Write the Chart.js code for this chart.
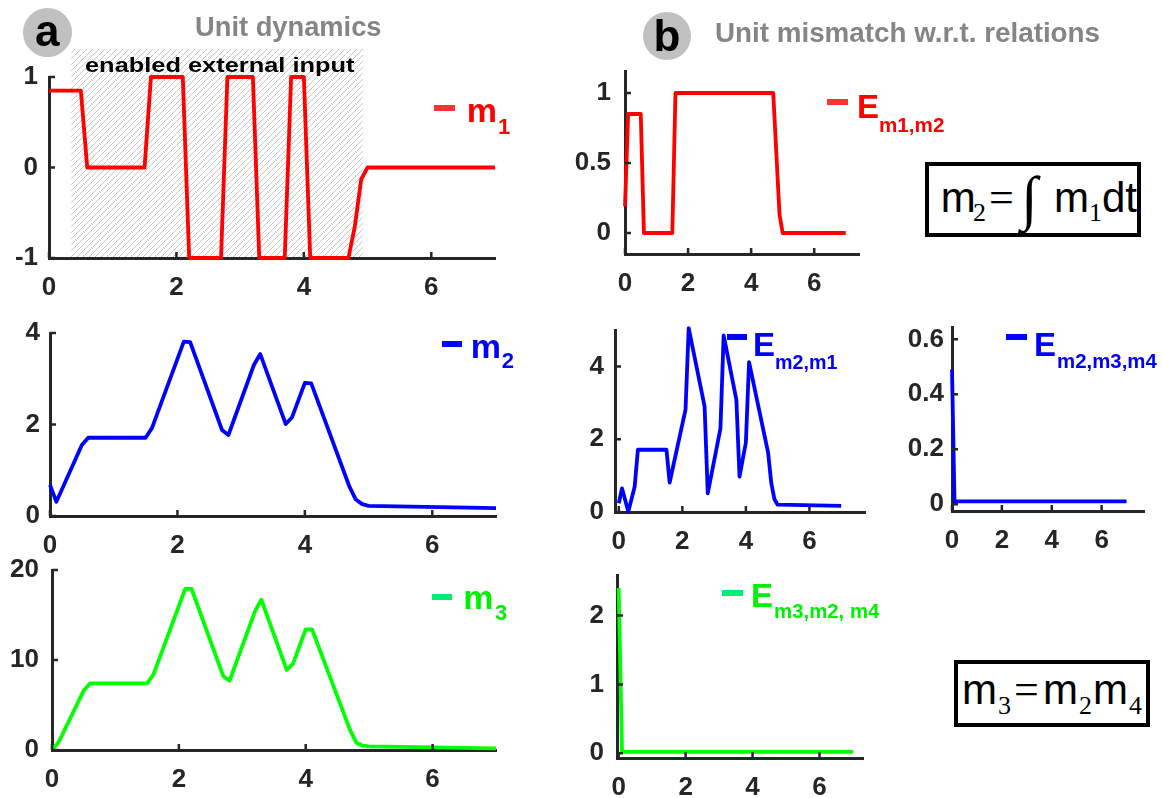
<!DOCTYPE html>
<html>
<head>
<meta charset="utf-8">
<script src="https://cdn.jsdelivr.net/npm/chart.js@4.4.1/dist/chart.umd.min.js"></script>
<style>
  html, body { margin: 0; padding: 0; background: #fff; }
  #fig { position: relative; width: 1162px; height: 798px; overflow: hidden; font-family: "Liberation Sans", Arial, sans-serif; }
  #fig canvas { position: absolute; }
  .t { position: absolute; white-space: nowrap; line-height: 1; transform-origin: 0 0; }
  .dash { position: absolute; }
  .badge { position: absolute; border-radius: 50%; background: #c0c0c0; }
  .eq { position: absolute; border: 4px solid #000; box-sizing: border-box; background: #fff; }
</style>
</head>
<body>
<div id="fig"></div>
<script>
// time samples and unit traces (panel a)
const m1T = [0, 0.5, 0.6, 1.5, 1.6, 2.1, 2.2, 2.7, 2.8, 3.2, 3.3, 3.7, 3.8, 4.0, 4.1, 4.7, 4.8, 4.9, 5.0, 7.0];
const m1Y = [0.85, 0.85, 0, 0, 1, 1, -1, -1, 1, 1, -1, -1, 1, 1, -1, -1, -0.65, -0.13, 0, 0];
const mT = [0, 0.1, 0.5, 0.6, 1.5, 1.6, 2.1, 2.2, 2.7, 2.8, 3.2, 3.3, 3.7, 3.8, 4.0, 4.1, 4.7, 4.8, 4.9, 5.0, 7.0];
const m2Y = [0.68, 0.31, 1.55, 1.71, 1.71, 1.92, 3.81, 3.80, 1.88, 1.77, 3.30, 3.54, 2.01, 2.16, 2.91, 2.90, 0.64, 0.36, 0.26, 0.22, 0.17];
const m3Y = [0.08, 0.81, 6.6, 7.4, 7.4, 8.4, 17.9, 17.9, 8.2, 7.7, 15.4, 16.7, 8.9, 9.6, 13.4, 13.4, 2.2, 0.8, 0.48, 0.4, 0.18];

// mismatch traces (panel b)
const e12T = [0, 0.1, 0.5, 0.6, 1.5, 1.6, 4.7, 4.9, 5.0, 7.0];
const e12Y = [0.19, 0.85, 0.85, 0, 0, 1, 1, 0.13, 0, 0];
const e21T = [0, 0.1, 0.3, 0.5, 0.6, 1.5, 1.6, 2.1, 2.2, 2.7, 2.8, 3.2, 3.3, 3.7, 3.8, 4.0, 4.1, 4.7, 4.8, 4.9, 5.0, 7.0];
const e21Y = [0.24, 0.65, 0.01, 0.70, 1.71, 1.71, 0.81, 2.81, 5.05, 2.9, 0.51, 2.3, 4.85, 3.09, 0.97, 1.91, 4.12, 1.63, 0.79, 0.35, 0.2, 0.17];
const e234T = [0, 0.1, 7.0];
const e234Y = [0.49, 0.01, 0.01];
const e324T = [0, 0.1, 7.0];
const e324Y = [2.4, 0.02, 0.02];

// tick labels
const xTicks = [0, 2, 4, 6];
const yTicksM1 = [-1, 0, 1];
const yTicksM2 = [0, 2, 4];
const yTicksM3 = [0, 10, 20];
const yTicksE12 = [0, 0.5, 1];
const yTicksE21 = [0, 2, 4];
const yTicksE234 = [0, 0.2, 0.4, 0.6];
const yTicksE324 = [0, 1, 2];

// time window with external input switched on
const inputWindow = [0.35, 4.93];

const RED = "#ff0000", BLUE = "#0000ff", GREEN = "#00ff00", AXIS = "#262626";
const FONT = "'Liberation Sans', Arial, sans-serif";
const PAD = { left: 70, top: 40, right: 12, bottom: 50 };
const fig = document.getElementById("fig");

const pts = (t, v) => t.map((x, i) => ({ x, y: v[i] }));

// diagonal hatch tile for the input window
const hatchTile = (() => {
  const c = document.createElement("canvas");
  c.width = c.height = 6;
  const g = c.getContext("2d");
  g.strokeStyle = "#c6c6c6";
  g.lineWidth = 1;
  g.beginPath();
  g.moveTo(-1, 7); g.lineTo(7, -1);
  g.stroke();
  return c;
})();

const inputShade = {
  id: "inputShade",
  beforeDraw(chart, args, opts) {
    if (!opts.window) return;
    const { ctx, scales: { x, y } } = chart;
    const x0 = x.getPixelForValue(opts.window[0]);
    const x1 = x.getPixelForValue(opts.window[1]);
    const y0 = y.getPixelForValue(y.min);
    const y1 = y.getPixelForValue(opts.top);
    ctx.save();
    ctx.fillStyle = ctx.createPattern(hatchTile, "repeat");
    ctx.fillRect(x0, y1, x1 - x0, y0 - y1);
    ctx.restore();
  }
};

// short tick marks pointing into the plot
const innerTicks = {
  id: "innerTicks",
  afterDatasetsDraw(chart) {
    const { ctx, chartArea: a, scales: { x, y } } = chart;
    ctx.save();
    ctx.strokeStyle = AXIS;
    ctx.lineWidth = 2.5;
    ctx.beginPath();
    x.ticks.forEach(t => {
      const p = x.getPixelForValue(t.value);
      ctx.moveTo(p, a.bottom); ctx.lineTo(p, a.bottom - 6);
    });
    y.ticks.forEach(t => {
      const p = y.getPixelForValue(t.value);
      ctx.moveTo(a.left, p); ctx.lineTo(a.left + 6, p);
    });
    ctx.stroke();
    ctx.restore();
  }
};

function panel(p) {
  const [l, r, t, b] = p.box;
  const c = document.createElement("canvas");
  c.width = r - l + PAD.left + PAD.right;
  c.height = b - t + PAD.top + PAD.bottom;
  c.style.left = (l - PAD.left) + "px";
  c.style.top = (t - PAD.top) + "px";
  fig.appendChild(c);

  const tickFont = { family: FONT, size: 26, weight: "bold" };
  new Chart(c, {
    type: "line",
    data: {
      datasets: [{
        data: pts(p.t, p.v),
        borderColor: p.color,
        borderWidth: 3.8,
        borderJoinStyle: "round",
        pointRadius: 0,
        tension: 0,
        clip: false
      }]
    },
    options: {
      responsive: false,
      animation: false,
      events: [],
      layout: { padding: { top: PAD.top, right: PAD.right, left: 0, bottom: 0 } },
      plugins: {
        legend: { display: false },
        tooltip: { enabled: false },
        inputShade: { window: p.shade, top: 1.31 }
      },
      scales: {
        x: {
          type: "linear",
          min: p.x[0], max: p.x[1],
          afterBuildTicks: s => { s.ticks = xTicks.map(value => ({ value })); },
          afterFit: s => { s.height = PAD.bottom; },
          grid: { display: false, drawTicks: false },
          border: { color: AXIS, width: 3 },
          ticks: { font: tickFont, color: AXIS, padding: 14, autoSkip: false, maxRotation: 0, callback: v => String(v) }
        },
        y: {
          type: "linear",
          min: p.y[0], max: p.y[1],
          afterBuildTicks: s => { s.ticks = p.yTicks.map(value => ({ value })); },
          afterFit: s => { s.width = PAD.left; },
          grid: { display: false, drawTicks: false },
          border: { color: AXIS, width: 3 },
          ticks: { font: tickFont, color: AXIS, padding: p.ypad, autoSkip: false, callback: v => String(v) }
        }
      }
    },
    plugins: [inputShade, innerTicks]
  });
}

panel({ box: [49, 495, 77, 258], x: [0, 7], y: [-1, 1], yTicks: yTicksM1, t: m1T, v: m1Y, color: RED, ypad: 11, shade: inputWindow });
panel({ box: [50, 496, 333, 516], x: [0, 7], y: [0, 4], yTicks: yTicksM2, t: mT, v: m2Y, color: BLUE, ypad: 10 });
panel({ box: [52, 496, 570, 750], x: [0, 7], y: [0, 20], yTicks: yTicksM3, t: mT, v: m3Y, color: GREEN, ypad: 13 });
panel({ box: [625, 859, 71, 254], x: [0, 7.42], y: [-0.15, 1.157], yTicks: yTicksE12, t: e12T, v: e12Y, color: RED, ypad: 14 });
panel({ box: [615, 865, 330, 512], x: [-0.12, 7.75], y: [0, 5], yTicks: yTicksE21, t: e21T, v: e21Y, color: BLUE, ypad: 11 });
panel({ box: [952, 1144, 327, 511], x: [0, 7.7], y: [-0.025, 0.645], yTicks: yTicksE234, t: e234T, v: e234Y, color: BLUE, ypad: 8 });
panel({ box: [617, 863, 575, 758], x: [-0.05, 7.3], y: [-0.07, 2.59], yTicks: yTicksE324, t: e324T, v: e324Y, color: GREEN, ypad: 13 });

// annotation text
function text(str, x, base, size, o = {}) {
  const d = document.createElement("div");
  d.className = "t";
  d.textContent = str;
  d.style.fontSize = size + "px";
  d.style.fontFamily = o.family || FONT;
  d.style.fontWeight = o.weight || "bold";
  d.style.color = o.color || "#000";
  d.style.top = (base - 0.85 * size) + "px";
  fig.appendChild(d);
  const w = d.offsetWidth;
  if (o.center) d.style.left = (x - w / 2) + "px";
  else d.style.left = x + "px";
  if (o.width) d.style.transform = "scaleX(" + (o.width / w) + ")";
  return d;
}

function box(cls, l, t, w, h, bg) {
  const d = document.createElement("div");
  d.className = cls;
  Object.assign(d.style, { left: l + "px", top: t + "px", width: w + "px", height: h + "px" });
  if (bg) d.style.background = bg;
  fig.appendChild(d);
  return d;
}

function key(x0, x1, y, color) {
  box("dash", x0, y - 3, x1 - x0, 6, color);
}

// panel badges and headings
box("badge", 23, 8, 49, 49);
text("a", 47, 46.7, 44, { center: true });
box("badge", 643, 12, 48, 48);
text("b", 667, 51.7, 44, { center: true });
text("Unit dynamics", 195, 37, 27, { color: "#858585", width: 187 });
text("Unit mismatch w.r.t. relations", 714.6, 42.7, 27.5, { color: "#858585", width: 385 });
text("enabled external input", 85, 72, 20.5, { width: 270 });

// unit legends
key(434, 455, 108, "#ff3333");
text("m", 466.7, 121.7, 34, { color: RED });
text("1", 498, 135, 22, { color: RED });
key(441.7, 461.7, 343.7, BLUE);
text("m", 470.7, 357.7, 34, { color: BLUE });
text("2", 501.7, 368.3, 22, { color: BLUE });
key(431.7, 451.7, 596.7, "#00ee77");
text("m", 463.3, 609.3, 34, { color: "#00f000" });
text("3", 495, 620.7, 22, { color: "#00f000" });

// mismatch legends
key(827, 848, 101.7, "#ff3333");
text("E", 857, 118, 33, { color: RED });
text("m1,m2", 879, 132, 20, { color: RED, width: 65 });
key(726.7, 746.7, 337.3, BLUE);
text("E", 753, 356, 33, { color: BLUE });
text("m2,m1", 775, 369.3, 20, { color: BLUE, width: 62 });
key(1006, 1027, 337, BLUE);
text("E", 1034, 356, 33, { color: BLUE });
text("m2,m3,m4", 1057, 368, 20, { color: BLUE, width: 100 });
key(721.5, 742.7, 593.3, "#00ee77");
text("E", 751, 606.7, 33, { color: "#00f000" });
text("m3,m2, m4", 773.5, 618.3, 20, { color: "#00f000", width: 105 });

// relation boxes
const SERIF = "'Liberation Serif', 'Times New Roman', serif";
box("eq", 925, 162, 216, 75);
text("m", 940.8, 213, 42, { weight: "normal" });
text("2", 973, 222, 26, { weight: "normal", family: SERIF });
text("=", 989, 213, 44, { weight: "normal", family: SERIF });
text("\u222B", 1021, 219, 60, { weight: "normal", family: SERIF });
text("m", 1054, 213, 42, { weight: "normal" });
text("1", 1089, 222, 26, { weight: "normal", family: SERIF });
text("dt", 1102, 213, 42, { weight: "normal" });

box("eq", 954, 660, 196, 67);
text("m", 962, 705, 42, { weight: "normal" });
text("3", 998, 715, 26, { weight: "normal", family: SERIF });
text("=", 1014, 705, 44, { weight: "normal", family: SERIF });
text("m", 1043, 705, 42, { weight: "normal" });
text("2", 1079, 715, 26, { weight: "normal", family: SERIF });
text("m", 1093, 705, 42, { weight: "normal" });
text("4", 1129, 715, 26, { weight: "normal", family: SERIF });
</script>
</body>
</html>
